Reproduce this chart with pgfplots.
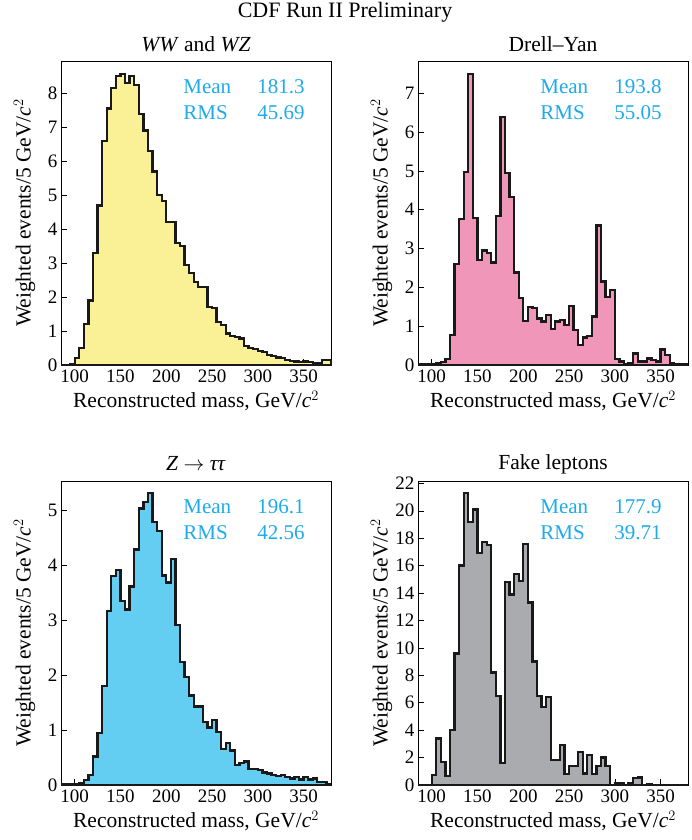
\documentclass[border=0pt]{standalone}
\usepackage{pgfplots}
\pgfplotsset{compat=1.18}
\usepackage{fontspec}
\setmainfont{Liberation Serif}
\definecolor{statc}{RGB}{30,170,235}
\definecolor{cyel}{RGB}{250,240,150}
\definecolor{cpink}{RGB}{240,150,185}
\definecolor{cblue}{RGB}{100,205,242}
\definecolor{cgray}{RGB}{170,171,175}
\pgfplotsset{
  hist/.style={
    scale only axis, width=270pt, height=304pt,
    xmin=85, xmax=380, ymin=0,
    xtick={100,150,...,350}, tick pos=left, tick align=inside,
    major tick length=6pt, tick style={black, line width=0.5pt},
    /pgf/number format/assume math mode=true,
    ticklabel style={font=\fontsize{19}{19}\selectfont},
    xticklabel style={yshift=-1pt},
    label style={font=\fontsize{21.5}{21.5}\selectfont},
    xlabel={Reconstructed mass, GeV/\textit{c}$^2$},
    ylabel={Weighted events/5 GeV/\textit{c}$^2$},
    xlabel style={at={(axis description cs:0.5,-0.118)}, anchor=center},
    ylabel style={at={(axis description cs:-0.135,0.5)}, anchor=center},
    axis line style={line width=0.6pt},
  },
  hp/.style={const plot mark left, draw=black!90, line width=2.3pt, fill=#1}
}
\newcommand{\stats}[2]{%
  \node[anchor=west, text=statc, font=\fontsize{21}{21}\selectfont] at (axis description cs:0.44,0.915) {Mean};
  \node[anchor=east, text=statc, font=\fontsize{21}{21}\selectfont] at (axis description cs:0.915,0.915) {#1};
  \node[anchor=west, text=statc, font=\fontsize{21}{21}\selectfont] at (axis description cs:0.44,0.83) {RMS};
  \node[anchor=east, text=statc, font=\fontsize{21}{21}\selectfont] at (axis description cs:0.915,0.83) {#2};
}
\begin{document}
\begin{tikzpicture}
\useasboundingbox (0,0) rectangle (691pt,-840pt);
\node[font=\fontsize{22}{22}\selectfont] at (345pt,-12pt) {CDF Run II Preliminary};
\node[font=\fontsize{21.5}{21.5}\selectfont] at (196pt,-44pt) {\textit{WW} and \textit{WZ}};
\node[font=\fontsize{21.5}{21.5}\selectfont] at (553pt,-44pt) {Drell--Yan};
\node[font=\fontsize{21.5}{21.5}\selectfont] at (196pt,-464pt) {\textit{Z} $\rightarrow$ \textit{ττ}};
\node[font=\fontsize{21.5}{21.5}\selectfont] at (553pt,-464pt) {Fake leptons};

\begin{axis}[hist, at={(61pt,-365pt)}, anchor=south west, ymax=8.95, ytick={0,1,...,8}]
\addplot[hp=cyel] coordinates {
(85,0)(90,0.01)(95,0.03)(100,0.2)(105,0.5)(110,1.2)(115,1.9)(120,3.3)(125,4.7)(130,6.6)(135,7.55)(140,8.15)(145,8.5)(150,8.56)(155,8.3)(160,8.5)(165,8.24)(170,7.4)(175,6.9)(180,6.3)(185,5.7)(190,5.0)(195,4.83)(200,4.2)(205,4.2)(210,3.6)(215,3.5)(220,2.95)(225,2.7)(230,2.45)(235,2.3)(240,2.3)(245,1.7)(250,1.67)(255,1.27)(260,1.18)(265,0.93)(270,0.85)(275,0.83)(280,0.78)(285,0.55)(290,0.5)(295,0.48)(300,0.42)(305,0.38)(310,0.3)(315,0.27)(320,0.22)(325,0.2)(330,0.15)(335,0.12)(340,0.1)(345,0.08)(350,0.1)(355,0.08)(360,0.05)(365,0.05)(370,0.15)(375,0.15)(380,0.15)
} \closedcycle;
\stats{181.3}{45.69}
\end{axis}

\begin{axis}[hist, at={(418pt,-365pt)}, anchor=south west, ymax=7.83, ytick={0,1,...,7}]
\addplot[hp=cpink] coordinates {
(85,0.01)(90,0.01)(95,0.01)(100,0.02)(105,0.05)(110,0.08)(115,0.15)(120,0.77)(125,2.6)(130,3.76)(135,4.98)(140,7.5)(145,3.78)(150,2.7)(155,2.95)(160,2.88)(165,2.64)(170,3.84)(175,6.38)(180,4.94)(185,4.32)(190,2.38)(195,1.72)(200,1.13)(205,1.49)(210,1.46)(215,1.2)(220,1.12)(225,1.29)(230,0.92)(235,1.12)(240,1.16)(245,1.03)(250,1.52)(255,0.9)(260,0.52)(265,0.71)(270,0.75)(275,1.25)(280,3.59)(285,2.15)(290,1.76)(295,1.93)(300,0.15)(305,0.09)(310,0.03)(315,0.04)(320,0.3)(325,0.09)(330,0.09)(335,0.17)(340,0.13)(345,0.09)(350,0.4)(355,0.26)(360,0.06)(365,0.03)(370,0.01)(375,0.01)(380,0.01)
} \closedcycle;
\stats{193.8}{55.05}
\end{axis}

\begin{axis}[hist, at={(61pt,-785pt)}, anchor=south west, ymax=5.54, ytick={0,1,...,5}]
\addplot[hp=cblue] coordinates {
(85,0.01)(90,0.01)(95,0.01)(100,0.01)(105,0.03)(110,0.09)(115,0.18)(120,0.52)(125,0.95)(130,1.8)(135,3.17)(140,3.81)(145,3.92)(150,3.35)(155,3.2)(160,3.62)(165,4.29)(170,5.04)(175,5.16)(180,5.32)(185,4.79)(190,4.63)(195,3.82)(200,3.69)(205,4.12)(210,2.91)(215,2.24)(220,1.97)(225,1.63)(230,1.43)(235,1.43)(240,1.15)(245,1.05)(250,1.19)(255,0.96)(260,0.65)(265,0.76)(270,0.63)(275,0.37)(280,0.4)(285,0.43)(290,0.29)(295,0.29)(300,0.27)(305,0.23)(310,0.21)(315,0.18)(320,0.16)(325,0.18)(330,0.15)(335,0.12)(340,0.14)(345,0.1)(350,0.14)(355,0.1)(360,0.12)(365,0.06)(370,0.06)(375,0.02)(380,0.02)
} \closedcycle;
\stats{196.1}{42.56}
\end{axis}

\begin{axis}[hist, at={(418pt,-785pt)}, anchor=south west, ymax=22.17, ytick={0,2,...,22}]
\addplot[hp=cgray] coordinates {
(85,0)(90,0)(95,0)(100,0.73)(105,3.4)(110,1.7)(115,0.66)(120,4.0)(125,9.6)(130,16.0)(135,21.3)(140,19.2)(145,20.1)(150,16.9)(155,17.7)(160,17.5)(165,8.2)(170,6.5)(175,1.6)(180,14.8)(185,13.9)(190,15.4)(195,14.9)(200,17.6)(205,13.3)(210,9.0)(215,6.5)(220,5.7)(225,6.4)(230,1.8)(235,1.8)(240,2.9)(245,0.8)(250,1.4)(255,1.4)(260,2.4)(265,0.85)(270,2.2)(275,0.8)(280,1.4)(285,2.0)(290,1.4)(295,0)(300,0.1)(305,0.12)(310,0)(315,0.17)(320,0.5)(325,0.55)(330,0)(335,0.08)(340,0)(345,0)(350,0)(355,0)(360,0)(365,0)(370,0)(375,0)(380,0)
} \closedcycle;
\stats{177.9}{39.71}
\end{axis}
\end{tikzpicture}
\end{document}
